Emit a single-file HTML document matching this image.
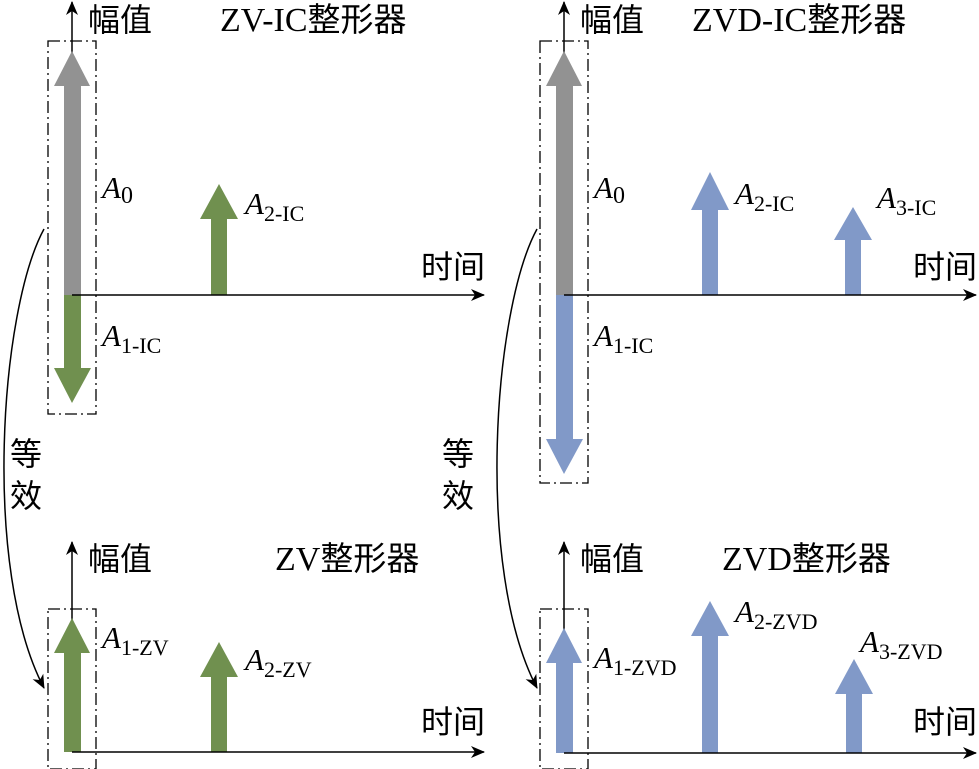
<!DOCTYPE html>
<html><head><meta charset="utf-8"><style>
html,body{margin:0;padding:0;background:#fff;}
svg{display:block;}
text{font-family:"Liberation Serif","Noto Serif CJK SC","Noto Sans CJK SC",serif;fill:#000;}
.cj{font-family:"Noto Sans CJK SC","WenQuanYi Zen Hei",sans-serif;}
</style></head><body>
<svg width="979" height="769" viewBox="0 0 979 769" xmlns="http://www.w3.org/2000/svg">
<defs>
<marker id="ah2" markerWidth="14" markerHeight="12" refX="13" refY="6" orient="auto" markerUnits="userSpaceOnUse">
<path d="M0,0 L14,6 L0,12 L4,6 Z" fill="#000"/></marker>
</defs>

<!-- ===== Top-left ===== -->
<line x1="72" y1="295" x2="72" y2="2" stroke="#000" stroke-width="1.5" marker-end="url(#ah2)"/>
<rect x="64" y="86" width="17" height="209" fill="#929292"/>
<polygon points="54,86 90,86 72,51" fill="#929292"/>
<rect x="64" y="295" width="17" height="73" fill="#70904F"/>
<polygon points="54,368 91,368 72,403" fill="#70904F"/>
<rect x="211" y="219" width="16" height="76" fill="#70904F"/>
<polygon points="200,219 238,219 219,184" fill="#70904F"/>
<line x1="72" y1="295" x2="484" y2="295" stroke="#000" stroke-width="1.5" marker-end="url(#ah2)"/>
<path d="M48,41 H96 V414 H48 Z" fill="none" stroke="#000" stroke-width="1.3" stroke-dasharray="12,4,2,4"/>
<text x="88" y="31" class="cj" font-size="32">幅值</text>
<text x="220" y="31" font-size="34">ZV-IC<tspan class="cj" font-size="33">整形器</tspan></text>
<text x="421" y="278" class="cj" font-size="32">时间</text>
<text x="102" y="198" font-size="31" font-style="italic">A<tspan font-style="normal" font-size="24" dy="5">0</tspan></text>
<text x="245" y="214" font-size="31" font-style="italic">A<tspan font-style="normal" font-size="22" dy="7">2-IC</tspan></text>
<text x="102" y="346" font-size="31" font-style="italic">A<tspan font-style="normal" font-size="22" dy="7">1-IC</tspan></text>

<!-- ===== Top-right ===== -->
<line x1="564" y1="295" x2="564" y2="2" stroke="#000" stroke-width="1.5" marker-end="url(#ah2)"/>
<rect x="556" y="86" width="17" height="209" fill="#929292"/>
<polygon points="546,86 582,86 564,51" fill="#929292"/>
<rect x="556" y="295" width="17" height="144" fill="#8199C8"/>
<polygon points="546,439 583,439 564,474" fill="#8199C8"/>
<rect x="702" y="210" width="16" height="85" fill="#8199C8"/>
<polygon points="691,210 729,210 710,172" fill="#8199C8"/>
<rect x="845" y="240" width="16" height="55" fill="#8199C8"/>
<polygon points="834,240 872,240 853,207" fill="#8199C8"/>
<line x1="564" y1="295" x2="976" y2="295" stroke="#000" stroke-width="1.5" marker-end="url(#ah2)"/>
<path d="M540,41 H588 V483 H540 Z" fill="none" stroke="#000" stroke-width="1.3" stroke-dasharray="12,4,2,4"/>
<text x="580" y="31" class="cj" font-size="32">幅值</text>
<text x="692" y="31" font-size="34">ZVD-IC<tspan class="cj" font-size="33">整形器</tspan></text>
<text x="913" y="278" class="cj" font-size="32">时间</text>
<text x="594" y="198" font-size="31" font-style="italic">A<tspan font-style="normal" font-size="24" dy="5">0</tspan></text>
<text x="735" y="204" font-size="31" font-style="italic">A<tspan font-style="normal" font-size="22" dy="7">2-IC</tspan></text>
<text x="877" y="208" font-size="31" font-style="italic">A<tspan font-style="normal" font-size="22" dy="7">3-IC</tspan></text>
<text x="594" y="346" font-size="31" font-style="italic">A<tspan font-style="normal" font-size="22" dy="7">1-IC</tspan></text>

<!-- ===== Bottom-left ===== -->
<line x1="72" y1="752" x2="72" y2="542" stroke="#000" stroke-width="1.5" marker-end="url(#ah2)"/>
<rect x="64" y="653" width="17" height="99" fill="#70904F"/>
<polygon points="54,653 90,653 72,618" fill="#70904F"/>
<rect x="211" y="677" width="16" height="75" fill="#70904F"/>
<polygon points="200,677 238,677 219,642" fill="#70904F"/>
<line x1="72" y1="752" x2="484" y2="752" stroke="#000" stroke-width="1.5" marker-end="url(#ah2)"/>
<path d="M48,609 H96 V769 H48 Z" fill="none" stroke="#000" stroke-width="1.3" stroke-dasharray="12,4,2,4"/>
<text x="88" y="570" class="cj" font-size="32">幅值</text>
<text x="275" y="570" font-size="34">ZV<tspan class="cj" font-size="33">整形器</tspan></text>
<text x="421" y="733" class="cj" font-size="32">时间</text>
<text x="102" y="648" font-size="31" font-style="italic">A<tspan font-style="normal" font-size="22" dy="7">1-ZV</tspan></text>
<text x="245" y="670" font-size="31" font-style="italic">A<tspan font-style="normal" font-size="22" dy="7">2-ZV</tspan></text>

<!-- ===== Bottom-right ===== -->
<line x1="564" y1="753" x2="564" y2="542" stroke="#000" stroke-width="1.5" marker-end="url(#ah2)"/>
<rect x="556" y="663" width="17" height="90" fill="#8199C8"/>
<polygon points="546,663 582,663 564,628" fill="#8199C8"/>
<rect x="702" y="636" width="16" height="117" fill="#8199C8"/>
<polygon points="691,636 729,636 710,601" fill="#8199C8"/>
<rect x="846" y="694" width="16" height="59" fill="#8199C8"/>
<polygon points="835,694 873,694 854,659" fill="#8199C8"/>
<line x1="564" y1="753" x2="976" y2="753" stroke="#000" stroke-width="1.5" marker-end="url(#ah2)"/>
<path d="M540,609 H588 V769 H540 Z" fill="none" stroke="#000" stroke-width="1.3" stroke-dasharray="12,4,2,4"/>
<text x="580" y="570" class="cj" font-size="32">幅值</text>
<text x="722" y="570" font-size="34">ZVD<tspan class="cj" font-size="33">整形器</tspan></text>
<text x="913" y="733" class="cj" font-size="32">时间</text>
<text x="594" y="668" font-size="31" font-style="italic">A<tspan font-style="normal" font-size="22" dy="7">1-ZVD</tspan></text>
<text x="735" y="622" font-size="31" font-style="italic">A<tspan font-style="normal" font-size="22" dy="7">2-ZVD</tspan></text>
<text x="860" y="652" font-size="31" font-style="italic">A<tspan font-style="normal" font-size="22" dy="7">3-ZVD</tspan></text>

<!-- curved "equivalent" arrows -->
<path d="M44,229 C0,310 -18,570 44,688" fill="none" stroke="#000" stroke-width="1.5" marker-end="url(#ah2)"/>
<path d="M537,229 C493,310 475,570 537,688" fill="none" stroke="#000" stroke-width="1.5" marker-end="url(#ah2)"/>
<text x="10" y="465" class="cj" font-size="32">等</text>
<text x="10" y="507" class="cj" font-size="32">效</text>
<text x="442" y="465" class="cj" font-size="32">等</text>
<text x="442" y="507" class="cj" font-size="32">效</text>
</svg>
</body></html>
